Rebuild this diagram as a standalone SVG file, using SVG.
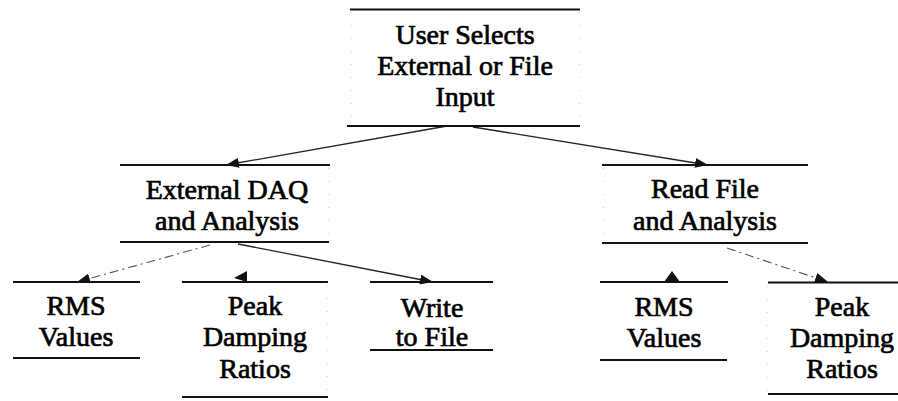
<svg xmlns="http://www.w3.org/2000/svg" width="898" height="401" viewBox="0 0 898 401">
  <defs>
    <style>
      .edge { stroke: #111; stroke-width: 2; fill: none; }
      .side { stroke: #c4c4c4; stroke-width: 1; stroke-dasharray: 1 12; fill: none; }
      .lbl { font-family: "Liberation Serif", "Times New Roman", serif; font-size: 28px; fill: #000; stroke: #000; stroke-width: 0.7; text-anchor: middle; }
      .conn { stroke: #222; stroke-width: 1.3; fill: none; marker-end: url(#arrow); }
      .faint { stroke: #555; stroke-width: 1.1; stroke-dasharray: 9 4 2 4; }
      .head { fill: #111; }
    </style>
    <marker id="arrow" viewBox="0 0 13 10" refX="13" refY="5" markerWidth="13" markerHeight="10" markerUnits="userSpaceOnUse" orient="auto">
      <path d="M0,0 L13,5 L0,10 z" fill="#111"/>
    </marker>
  </defs>
  <rect width="898" height="401" fill="#fff"/>

  <g id="connectors">
    <line class="conn" x1="447" y1="126" x2="226" y2="165"/>
    <line class="conn" x1="473" y1="127" x2="708" y2="165"/>
    <line class="conn faint" x1="210" y1="245" x2="77" y2="282"/>
    <line class="conn" x1="238" y1="244" x2="433" y2="282"/>
    <line class="conn faint" x1="727" y1="248" x2="828" y2="282"/>
    <polygon class="head" points="234,278 247,271 247,282"/>
    <polygon class="head" points="664,282 672,271 680,282"/>
  </g>

  <g id="node-input">
    <line class="edge" x1="350" y1="9.5" x2="580" y2="9.5"/>
    <line class="edge" x1="347" y1="126" x2="580" y2="126"/>
    <line class="side" x1="351" y1="12" x2="351" y2="124"/>
    <line class="side" x1="579" y1="12" x2="579" y2="124"/>
    <text class="lbl" x="465" y="44">User Selects</text>
    <text class="lbl" x="465" y="75">External or File</text>
    <text class="lbl" x="465" y="106">Input</text>
  </g>

  <g id="node-external">
    <line class="edge" x1="120" y1="165" x2="330" y2="165"/>
    <line class="edge" x1="120" y1="242" x2="329" y2="242"/>
    <line class="side" x1="329" y1="168" x2="329" y2="240"/>
    <text class="lbl" x="227" y="199">External DAQ</text>
    <text class="lbl" x="227" y="230">and Analysis</text>
  </g>

  <g id="node-readfile">
    <line class="edge" x1="602" y1="165" x2="808" y2="165"/>
    <line class="edge" x1="602" y1="243" x2="808" y2="243"/>
    <line class="side" x1="603" y1="168" x2="603" y2="240"/>
    <text class="lbl" x="705" y="198">Read File</text>
    <text class="lbl" x="705" y="230">and Analysis</text>
  </g>

  <g id="node-rms-left">
    <line class="edge" x1="13" y1="282" x2="140" y2="282"/>
    <line class="edge" x1="13" y1="358" x2="140" y2="358"/>
    <text class="lbl" x="76" y="315">RMS</text>
    <text class="lbl" x="76" y="346">Values</text>
  </g>

  <g id="node-peak-left">
    <line class="edge" x1="182" y1="282" x2="328" y2="282"/>
    <line class="edge" x1="182" y1="397" x2="328" y2="397"/>
    <line class="side" x1="327" y1="285" x2="327" y2="394"/>
    <text class="lbl" x="255" y="315">Peak</text>
    <text class="lbl" x="255" y="346">Damping</text>
    <text class="lbl" x="255" y="378">Ratios</text>
  </g>

  <g id="node-write">
    <line class="edge" x1="370" y1="282" x2="493" y2="282"/>
    <line class="edge" x1="370" y1="350" x2="493" y2="350"/>
    <text class="lbl" x="432" y="317">Write</text>
    <text class="lbl" x="432" y="346">to File</text>
  </g>

  <g id="node-rms-right">
    <line class="edge" x1="600" y1="282" x2="728" y2="282"/>
    <line class="edge" x1="600" y1="360" x2="727" y2="360"/>
    <text class="lbl" x="664" y="316">RMS</text>
    <text class="lbl" x="664" y="347">Values</text>
  </g>

  <g id="node-peak-right">
    <line class="edge" x1="768" y1="282.5" x2="898" y2="282.5"/>
    <line class="edge" x1="768" y1="394" x2="898" y2="394"/>
    <line class="side" x1="767" y1="286" x2="767" y2="391"/>
    <text class="lbl" x="842" y="316">Peak</text>
    <text class="lbl" x="842" y="347">Damping</text>
    <text class="lbl" x="842" y="378">Ratios</text>
  </g>
</svg>
